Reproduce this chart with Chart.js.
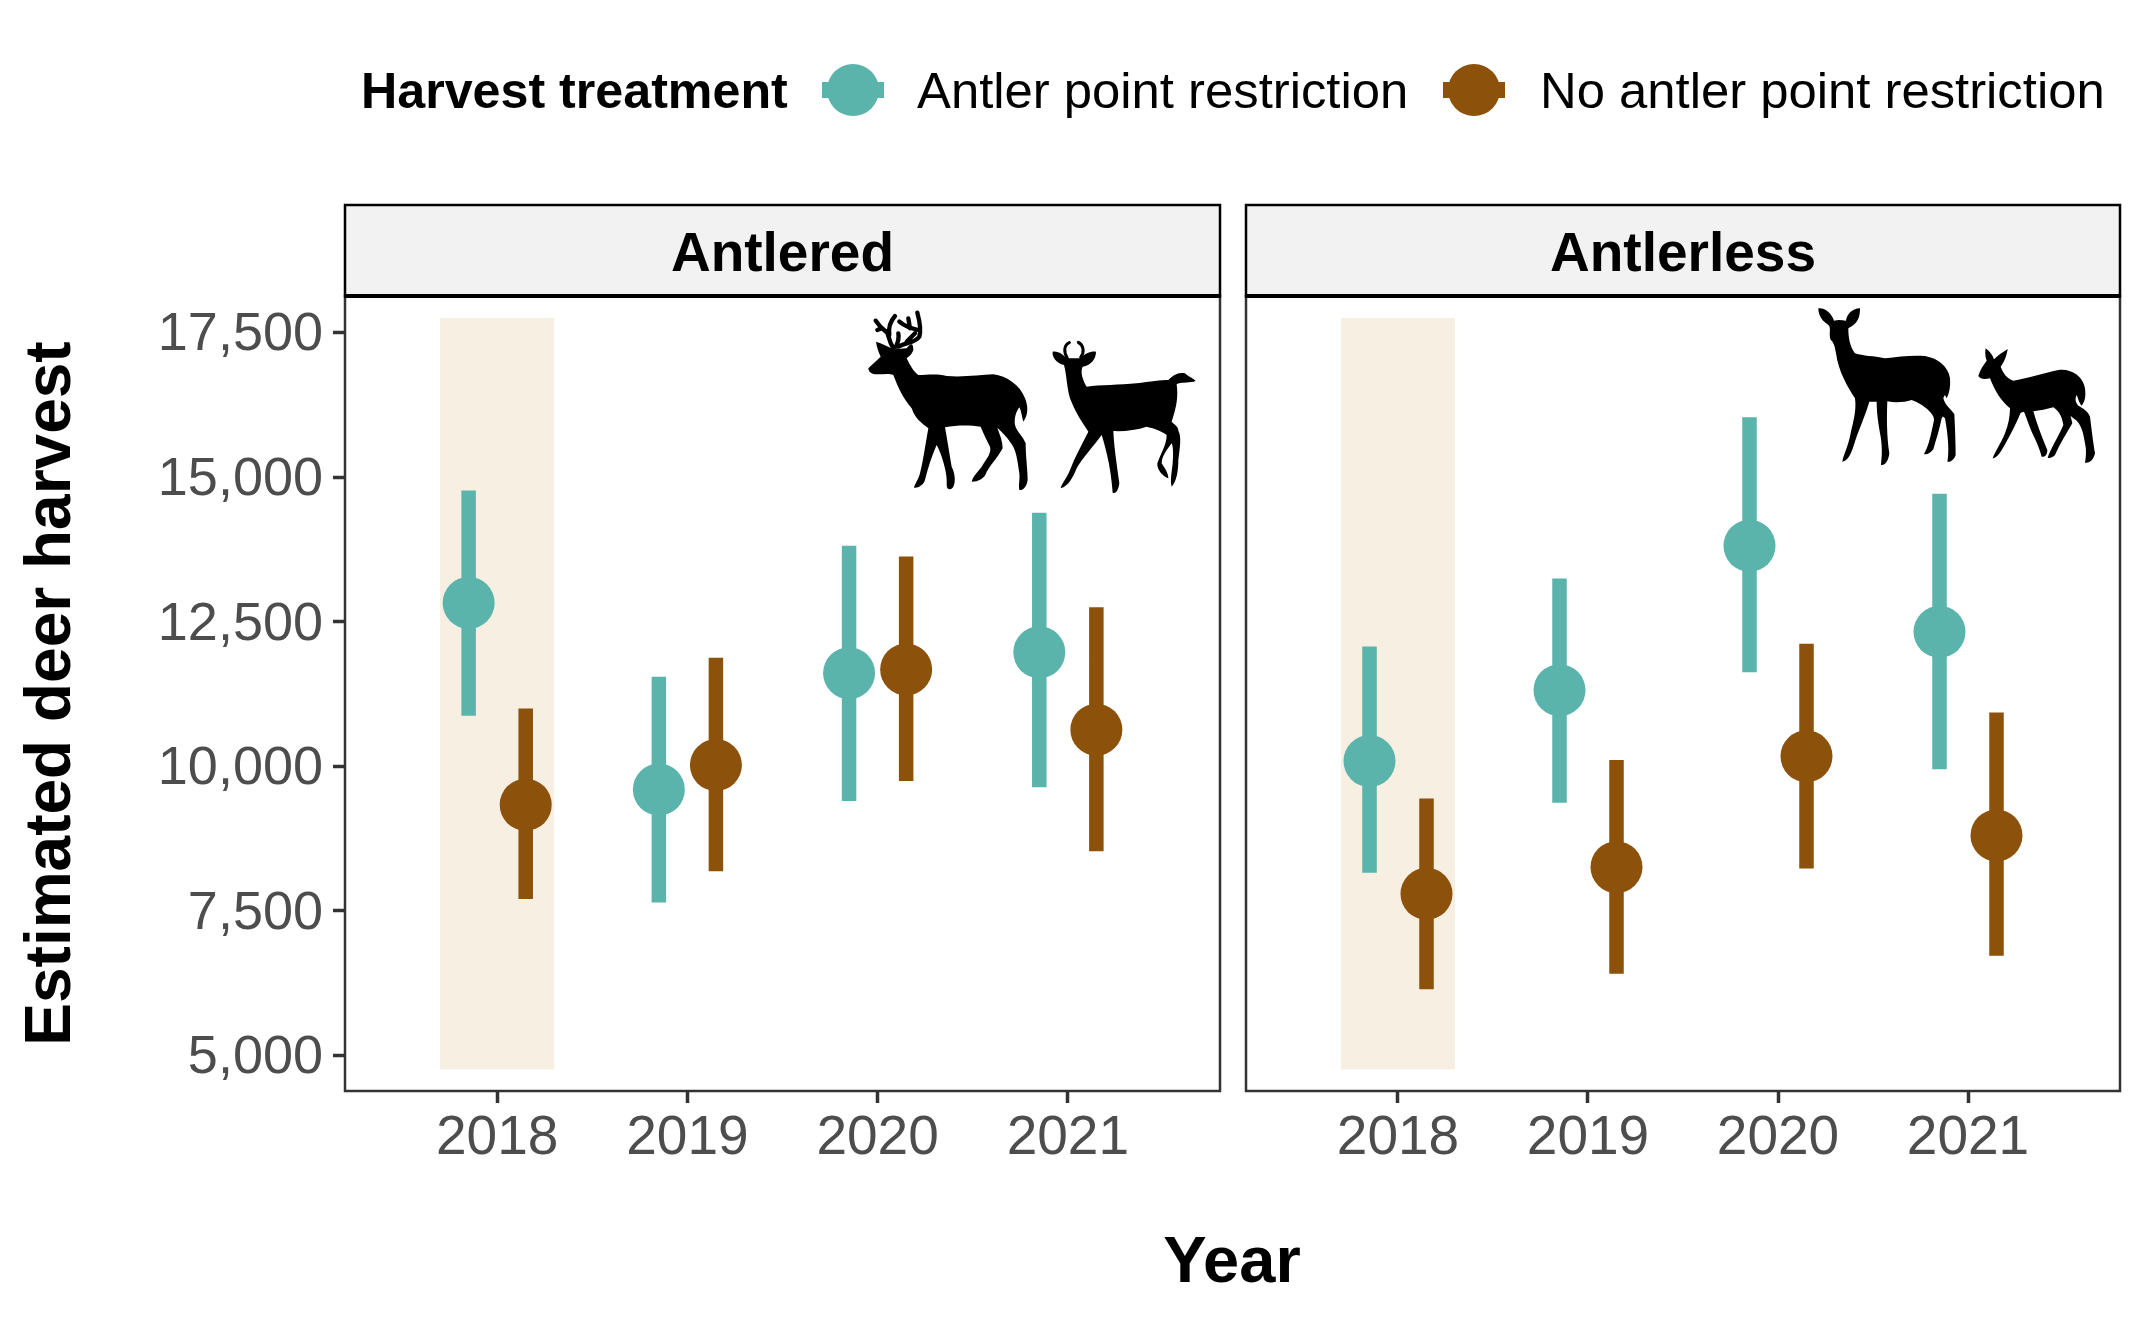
<!DOCTYPE html>
<html>
<head>
<meta charset="utf-8">
<title>Estimated deer harvest</title>
<script src="https://cdn.jsdelivr.net/npm/chart.js@4/dist/chart.umd.js"></script>
<style>
body { margin: 0; background: #fff; font-family: "Liberation Sans", Arial, sans-serif; }
canvas, svg, .txt, .key { position: absolute; }
.txt { font-size: 50.8px; line-height: 50px; white-space: nowrap; color: #000; }
.key div { position: absolute; }
</style>
</head>
<body>
<canvas id="left" width="1232" height="1320" style="left:0;top:0;width:1232px;height:1320px"></canvas>
<canvas id="right" width="913" height="1320" style="left:1232px;top:0;width:913px;height:1320px"></canvas>

<!-- legend -->
<div class="txt" style="left:361px;top:66px;font-weight:bold;font-size:50.2px">Harvest treatment</div>
<div class="key" id="keyApr" style="left:853px;top:90px"></div>
<div class="txt" style="left:917px;top:66px">Antler point restriction</div>
<div class="key" id="keyNo" style="left:1474px;top:90px"></div>
<div class="txt" style="left:1540px;top:66px">No antler point restriction</div>
<div class="txt" style="left:0;width:2464px;top:1228px;text-align:center;font-size:65px;line-height:64px;font-weight:bold">Year</div>

<!-- deer silhouettes -->
<svg style="left:860px;top:300px" width="350" height="350" viewBox="0 0 1050 1050">
  <path d="M25,205 L62,170 C55,155 50,140 48,125 C65,130 85,140 100,148 L140,145 C150,130 160,125 160,150 C155,165 145,170 140,175 C150,195 160,215 175,225 C200,225 230,220 260,228 C310,232 360,225 400,223 C440,228 480,255 495,295 C505,320 505,345 490,365 C485,350 485,335 478,322 C468,335 462,355 465,375 C470,395 490,410 497,430 C497,470 503,510 503,540 C500,560 490,572 478,570 C475,555 480,540 478,520 C472,480 470,450 450,425 C440,410 425,395 412,383 C420,405 428,425 428,445 C415,470 395,490 380,515 C375,535 355,545 335,545 C340,525 355,515 365,500 C380,475 395,460 390,440 C380,420 370,400 362,380 C330,375 290,375 255,382 C262,420 268,460 275,500 C285,520 288,545 280,560 C272,572 260,570 260,555 C262,530 255,500 245,470 C240,455 235,445 230,435 C215,470 205,500 195,540 C190,555 175,565 162,563 C165,550 175,540 180,520 C190,480 195,440 205,385 C185,370 165,355 155,325 C130,295 115,265 100,225 C85,218 60,225 40,222 C30,220 25,212 25,205 Z"/>
  <path fill="none" stroke="#000" stroke-width="13" stroke-linecap="round" d="M100,145 C85,120 85,100 80,95 M88,105 C85,85 90,65 105,48 M78,95 C65,85 55,75 47,62 M65,85 L52,90 M115,140 C140,125 165,130 178,110 C185,85 178,60 172,38 M175,90 C150,85 130,75 118,65 M150,85 L145,55 M108,140 C115,125 118,115 115,100 M140,125 L165,100"/>
  <path d="M612,195 C590,190 575,170 578,155 C595,152 610,165 620,175 L660,175 C675,160 695,152 708,155 C708,175 695,195 668,200 C660,215 668,240 680,260 C720,255 780,255 830,250 C870,245 905,240 925,240 C940,225 955,215 975,220 C985,230 1000,235 1007,243 C990,250 970,245 950,252 C955,290 950,320 935,365 C945,375 955,380 955,392 C965,410 960,440 955,480 C955,510 950,545 935,560 C930,540 935,520 938,490 C940,465 940,440 935,430 C920,450 905,470 905,490 C915,505 925,520 925,535 C910,530 890,510 892,490 C900,465 920,435 920,405 C900,390 880,385 860,380 C830,390 790,395 760,393 C762,440 770,490 778,550 C775,575 765,582 758,578 C755,540 750,500 740,460 C735,440 730,420 725,405 C700,440 670,470 650,505 C640,530 625,560 602,565 C605,550 620,535 630,510 C645,470 665,435 685,395 C665,365 645,335 630,295 C620,260 620,225 612,195 Z"/>
  <path fill="none" stroke="#000" stroke-width="9" stroke-linecap="round" d="M622,175 C610,155 612,135 628,128 M662,172 C675,155 670,135 655,127"/>
</svg>
<svg style="left:1810px;top:290px" width="310" height="310" viewBox="0 0 930 930">
  <path d="M25,55 C45,52 65,70 72,92 C85,88 95,90 108,92 C110,75 125,55 150,55 C150,80 145,100 115,115 C115,145 120,170 135,190 C160,198 190,198 225,205 C265,200 305,195 345,198 C385,205 415,230 420,265 C422,290 418,310 410,325 C405,315 405,310 400,325 C405,345 420,355 433,372 C435,410 437,460 437,495 C432,510 420,518 412,515 C418,490 415,440 405,385 C395,375 400,380 395,385 C388,420 378,450 370,478 C360,490 350,495 342,492 C355,470 362,440 372,390 C375,375 345,345 305,330 C280,338 255,338 232,334 C230,380 230,440 238,490 C235,515 225,527 213,525 C215,500 218,480 212,440 C205,400 200,370 200,335 L178,335 C165,380 145,420 130,470 C120,500 110,512 97,515 C100,495 115,470 122,430 C130,395 140,360 135,325 C115,295 85,245 78,190 C75,170 70,155 62,150 C55,130 65,115 55,105 C40,95 25,80 25,55 Z"/>
  <path d="M505,258 C510,240 520,225 530,212 C525,200 525,185 527,175 C540,185 548,195 552,208 C565,195 580,185 593,177 C590,200 580,220 572,230 C580,250 590,265 610,272 C650,265 700,250 745,240 C785,235 820,260 825,295 C828,320 825,335 815,347 C805,335 805,325 800,315 C795,325 795,335 805,347 C820,355 835,365 840,380 C845,420 850,460 855,490 C850,510 840,520 825,518 C828,500 830,480 825,460 C820,430 815,400 790,385 C780,378 778,370 780,370 L787,400 C770,430 750,460 735,495 C725,505 718,505 713,503 C720,480 745,440 760,405 C757,385 750,365 730,352 C710,358 690,362 670,364 C680,400 695,440 712,480 C712,495 705,502 695,500 C690,480 680,455 665,425 C655,400 650,385 642,365 L632,368 C615,410 590,455 575,480 C565,497 555,505 548,505 C555,485 570,465 585,430 C595,405 600,380 600,355 C575,335 555,305 540,265 C525,268 510,268 505,258 Z"/>
</svg>

<script>
const YEARS = [2018, 2019, 2020, 2021];
const Y_TICKS = [5000, 7500, 10000, 12500, 15000, 17500];

// Antlered panel
const antleredAprMean = [12825, 9598, 11610, 11971];
const antleredAprLow = [10872, 7647, 9401, 9637];
const antleredAprHigh = [14770, 11550, 13815, 14383];
const antleredNoMean = [9335, 10021, 11675, 10633];
const antleredNoLow = [7706, 8185, 9744, 8529];
const antleredNoHigh = [10997, 11876, 13626, 12750];

// Antlerless panel
const antlerlessAprMean = [10091, 11315, 13813, 12325];
const antlerlessAprLow = [8161, 9369, 11626, 9948];
const antlerlessAprHigh = [12069, 13246, 16035, 14712];
const antlerlessNoMean = [7796, 8256, 10173, 8805];
const antlerlessNoLow = [6144, 6413, 8235, 6725];
const antlerlessNoHigh = [9441, 10107, 12118, 10931];

// shaded 2018 band
const bandYears = [2017.7, 2018.3];
const bandValues = [4760, 17750];

const DODGE = 0.15;
const TEAL = '#5AB4AC';
const BROWN = '#8C510A';
const FONT = '"Liberation Sans", Arial, sans-serif';

const facetPlugin = {
    id: 'facet',
    beforeDraw(chart){
        const {ctx, chartArea: a} = chart;
        ctx.save();
        ctx.fillStyle = '#F2F2F2';
        ctx.fillRect(a.left, 205, a.right - a.left, a.top - 205);
        ctx.strokeStyle = '#000';
        ctx.lineWidth = 2.5;
        ctx.strokeRect(a.left, 205, a.right - a.left, a.top - 205);
        ctx.restore();
    },
    beforeDatasetsDraw(chart){
        const {ctx, scales: {x, y}} = chart;
        ctx.save();
        ctx.fillStyle = '#F6EFE2';
        const left = x.getPixelForValue(bandYears[0]);
        const top = y.getPixelForValue(bandValues[1]);
        ctx.fillRect(left, top, x.getPixelForValue(bandYears[1]) - left, y.getPixelForValue(bandValues[0]) - top);
        ctx.restore();
    },
    afterDraw(chart){
        const {ctx, chartArea: a} = chart;
        ctx.save();
        ctx.strokeStyle = '#333';
        ctx.lineWidth = 2.5;
        ctx.strokeRect(a.left, a.top, a.right - a.left, a.bottom - a.top);
        ctx.strokeStyle = '#000';
        ctx.lineWidth = 4;
        ctx.beginPath();
        ctx.moveTo(a.left - 1, a.top);
        ctx.lineTo(a.right + 1, a.top);
        ctx.stroke();
        ctx.fillStyle = '#000';
        ctx.font = 'bold 55px ' + FONT;
        ctx.textAlign = 'center';
        ctx.textBaseline = 'alphabetic';
        ctx.fillText(chart.options.facetName, (a.left + a.right) / 2, 271);
        ctx.restore();
    }
};

drawKey('keyApr', TEAL);
drawKey('keyNo', BROWN);

chartPanel('left', 'Antlered', 345, 12, true,
    [antleredAprMean, antleredAprLow, antleredAprHigh],
    [antleredNoMean, antleredNoLow, antleredNoHigh]);
chartPanel('right', 'Antlerless', 14, 25, false,
    [antlerlessAprMean, antlerlessAprLow, antlerlessAprHigh],
    [antlerlessNoMean, antlerlessNoLow, antlerlessNoHigh]);

function drawKey(id, color){
    document.getElementById(id).innerHTML =
        `<div style="left:-31px;top:-8px;width:62px;height:16px;background:${color}"></div>` +
        `<div style="left:-26px;top:-26px;width:52px;height:52px;border-radius:50%;background:${color}"></div>`;
}

function rangeData(xOffset, low, high){
    const rows = [];
    YEARS.forEach((year, i) => {
        rows.push({x: year + xOffset, y: low[i]}, {x: year + xOffset, y: high[i]}, {x: year + xOffset, y: null});
    });
    return rows;
}

function pointData(xOffset, mean){
    return YEARS.map((year, i) => ({x: year + xOffset, y: mean[i]}));
}

function rangeSet(label, offset, color, series){
    return {type: 'line', label: label, data: rangeData(offset, series[1], series[2]), borderColor: color,
        borderWidth: 14.5, borderCapStyle: 'butt', pointRadius: 0, spanGaps: false, tension: 0};
}

function pointSet(label, offset, color, series){
    return {type: 'scatter', label: label, data: pointData(offset, series[0]), backgroundColor: color,
        borderWidth: 0, pointRadius: 26, pointHoverRadius: 26};
}

function chartPanel(id, name, axisWidth, rightPad, showY, apr, no){
    const ctx = document.getElementById(id).getContext('2d');
    new Chart(ctx, {
        data: {
            datasets: [
                pointSet('No antler point restriction', DODGE, BROWN, no),
                rangeSet('No antler point restriction range', DODGE, BROWN, no),
                pointSet('Antler point restriction', -DODGE, TEAL, apr),
                rangeSet('Antler point restriction range', -DODGE, TEAL, apr)
            ]
        },
        options: {
            facetName: name,
            responsive: false,
            animation: false,
            devicePixelRatio: 1,
            // big points would otherwise add auto padding round the plot
            layout: {autoPadding: false, padding: {top: 296, right: rightPad, bottom: 0, left: 0}},
            plugins: {legend: {display: false}, tooltip: {enabled: false}, title: {display: false}},
            scales: {
                x: {
                    type: 'linear',
                    min: 2017.2,
                    max: 2021.8,
                    afterBuildTicks: s => { s.ticks = YEARS.map(v => ({value: v})); },
                    // keep the year labels from pushing the plot area in
                    afterFit: s => { s.height = 229; s.paddingLeft = 0; s.paddingRight = 0; },
                    grid: {drawOnChartArea: false, tickLength: 12, tickWidth: 3.5, tickColor: '#333'},
                    border: {display: false},
                    ticks: {
                        color: '#4D4D4D', font: {family: FONT, size: 55}, padding: 3, maxRotation: 0,
                        callback: v => String(v)
                    }
                },
                y: {
                    type: 'linear',
                    min: 4386,
                    max: 18131,
                    afterBuildTicks: s => { s.ticks = Y_TICKS.map(v => ({value: v})); },
                    afterFit: s => { s.width = axisWidth; s.paddingTop = 0; s.paddingBottom = 0; },
                    grid: {drawOnChartArea: false, drawTicks: showY, tickLength: 12, tickWidth: 3.5, tickColor: '#333'},
                    border: {display: false},
                    title: {
                        display: showY, text: 'Estimated deer harvest', color: '#000',
                        font: {family: FONT, size: 64, weight: 'bold'}, padding: {top: 14, bottom: 0}
                    },
                    ticks: {
                        display: showY, color: '#4D4D4D', font: {family: FONT, size: 54}, padding: 10, labelOffset: 3,
                        callback: v => v.toLocaleString('en-US')
                    }
                }
            }
        },
        plugins: [facetPlugin]
    });
}
</script>
</body>
</html>
